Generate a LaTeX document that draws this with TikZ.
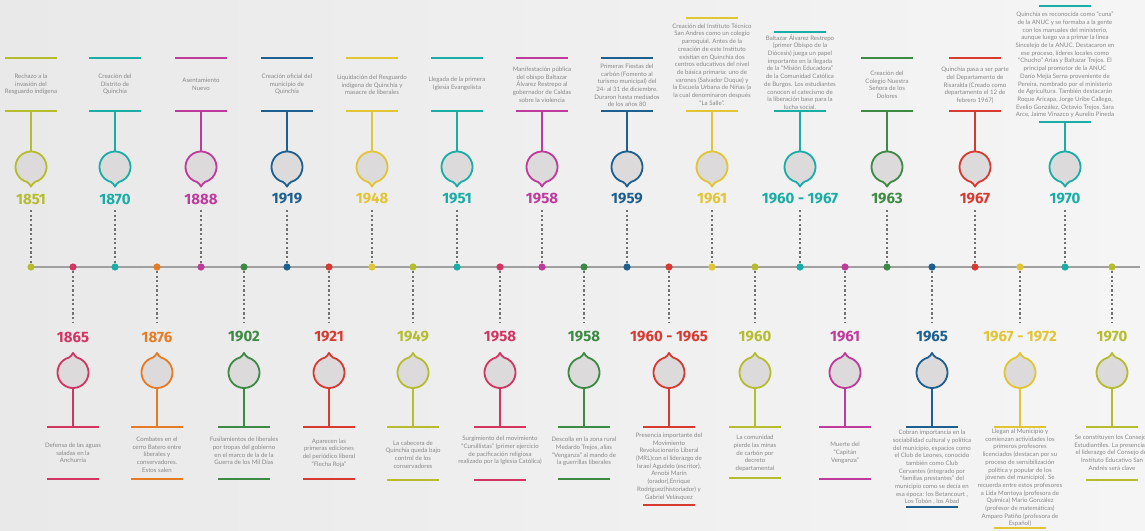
\documentclass[tikz,border=0pt]{standalone}
\usepackage{fontspec}
\setmainfont{Lato}
\newfontfamily\yearfont{Fira Sans}
\definecolor{olive}{HTML}{B5BD2F}
\definecolor{teal}{HTML}{19ADA6}
\definecolor{magenta}{HTML}{BE3A9B}
\definecolor{blue}{HTML}{1D5F8E}
\definecolor{yellow}{HTML}{E2C534}
\definecolor{green}{HTML}{3C8A43}
\definecolor{red}{HTML}{D73A30}
\definecolor{crimson}{HTML}{D23562}
\definecolor{orange}{HTML}{E67B26}
\definecolor{txtgray}{HTML}{888888}
\definecolor{markfill}{HTML}{DCDADB}
\definecolor{dotgray}{HTML}{707070}
\definecolor{linegray}{HTML}{A0A0A0}
\definecolor{bgl}{HTML}{E9E9E9}
\definecolor{bgr}{HTML}{F5F5F5}
\tikzset{
 txt/.style={font=\fontsize{6.1}{7.7}\selectfont, text=txtgray, align=center, inner sep=0pt},
 yr/.style={font=\yearfont\bfseries\fontsize{15}{15}\selectfont, inner sep=0pt},
 bar/.style={draw=#1, line width=1.6pt},
 stem/.style={draw=#1, line width=1.2pt},
 dotline/.style={draw=dotgray, line width=2.2pt, dash pattern=on 2.2pt off 2.4pt},
 pinshape/.style={draw=#1, fill=markfill, line width=1.8pt, line join=round},
}
\newcommand\pinmark[4]{%
 \begin{scope}[shift={(#1,#2)}, yscale=#3]
  \path[pinshape=#4] (105:15.5) arc[start angle=105, end angle=435, radius=15.5]
   .. controls (2.4,16.3) and (0.6,17.6) .. (0,19.6)
   .. controls (-0.6,17.6) and (-2.4,16.3) .. (105:15.5) -- cycle;
 \end{scope}}
% #1 id #2 x #3 color #4 year #5 top bar y #6 bottom bar y #7 text center y #8 text
\newcommand\topev[8]{%
 \draw[bar=#3] ({#2-26},#5) -- ({#2+26},#5);
 \draw[bar=#3] ({#2-26},#6) -- ({#2+26},#6);
 \node[txt] (tx#1) at (#2,#7) {#8};
 \coordinate (st#1) at (#2,#6);
 \coordinate (ct#1) at (#2,151.5);
 \draw[stem=#3] (st#1) -- (ct#1);
 \pinmark{#2}{167}{1}{#3}
 \node[yr, text=#3] (yr#1) at (#2,199) {#4};
 \coordinate (ds#1) at (#2,210);
 \coordinate (de#1) at (#2,263);
 \draw[dotline] (ds#1) -- (de#1);
 \coordinate (d#1) at (#2,267);
 \fill[#3] (d#1) circle (3.6);
}
% #1 id #2 x #3 color #4 year #5 bottom bar y #6 text center y #7 text
\newcommand\botev[7]{%
 \coordinate (ds#1) at (#2,271);
 \coordinate (de#1) at (#2,323);
 \draw[dotline] (ds#1) -- (de#1);
 \node[yr, text=#3] (yr#1) at (#2,337) {#4};
 \coordinate (sa#1) at (#2,388);
 \coordinate (sb#1) at (#2,427);
 \draw[stem=#3] (sa#1) -- (sb#1);
 \pinmark{#2}{372.5}{-1}{#3}
 \draw[bar=#3] ({#2-26},427) -- ({#2+26},427);
 \draw[bar=#3] ({#2-26},#5) -- ({#2+26},#5);
 \node[txt] (tx#1) at (#2,#6) {#7};
 \coordinate (d#1) at (#2,267);
 \fill[#3] (d#1) circle (3.6);
}
\begin{document}
\begin{tikzpicture}[x=1pt,y=-1pt]
\useasboundingbox (0,0) rectangle (1145,530);
\fill[left color=bgl, right color=bgr] (0,0) rectangle (1145,530);
\coordinate (tlA) at (31,267);
\coordinate (tlB) at (1140,267);
\draw[linegray, line width=1.5pt] (tlA) -- (tlB);

\topev{a}{31}{olive}{1851}{58}{111}{84.5}{Rechazo a la\\invasión del\\Resguardo indígena}
\topev{b}{115}{teal}{1870}{58}{111}{84.5}{Creación del\\Distrito de\\Quinchía}
\topev{c}{201}{magenta}{1888}{58}{111}{84.5}{Asentamiento\\Nuevo}
\topev{d}{287}{blue}{1919}{58}{111}{84.5}{Creación oficial del\\municipio de\\Quinchía}
\topev{e}{372}{yellow}{1948}{58}{111}{85}{Liquidación del Resguardo\\indígena de Quinchía y\\masacre de liberales}
\topev{f}{457}{teal}{1951}{58}{111}{84}{Llegada de la primera\\Iglesia Evangelista}
\topev{g}{542}{magenta}{1958}{58}{111}{84.5}{Manifestación pública\\del obispo Baltazar\\Álvarez Restrepo al\\gobernador de Caldas\\sobre la violencia}
\topev{h}{627}{blue}{1959}{58}{111}{85.5}{Primeras Fiestas del\\carbón (Fomento al\\turismo municipal) del\\24- al 31 de diciembre.\\Duraron hasta mediados\\de los años 80}
\topev{i}{712}{yellow}{1961}{18}{111}{64.5}{Creación del Instituto Técnico\\San Andres como un colegio\\parroquial. Antes de la\\creación de este Instituto\\existían en Quinchía dos\\centros educativos del nivel\\de básica primaria: uno de\\varones (Salvador Duque) y\\la Escuela Urbana de Niñas (a\\la cual denominaron después\\“La Salle”.}
\topev{j}{800}{teal}{1960 - 1967}{32}{111}{72}{Baltazar Álvarez Restrepo\\(primer Obispo de la\\Diócesis) juega un papel\\importante en la llegada\\de la “Misión Educadora”\\de la Comunidad Católica\\de Burgos. Los estudiantes\\conocen el catecismo de\\la liberación base para la\\lucha social.}
\topev{k}{887}{green}{1963}{58}{111}{84.7}{Creación del\\Colegio Nuestra\\Señora de los\\Dolores}
\topev{l}{975}{red}{1967}{58}{111}{85.3}{Quinchía pasa a ser parte\\del Departamento de\\Risaralda (Creado como\\departamento el 12 de\\febrero 1967)}
\topev{m}{1065}{teal}{1970}{6}{122}{65}{Quinchía es reconocida como “cuna”\\de la ANUC y se formaba a la gente\\con los manuales del ministerio,\\aunque luego va a primar la línea\\Sincelejo de la ANUC.  Destacaron en\\ese proceso, líderes locales como\\“Chucho” Arias y Baltazar Trejos. El\\principal promotor de la ANUC\\Darío Mejía Serna proveniente de\\Pereira, nombrado por el ministerio\\de Agricultura. También destacarán\\Roque Aricapa, Jorge Uribe Callego,\\Evelio González, Octavio Trejos, Sara\\Arce, Jaime Vinazco y Aurelio Pineda}

\botev{n}{73}{crimson}{1865}{479}{453}{Defensa de las aguas\\saladas en la\\Anchurria}
\botev{o}{157}{orange}{1876}{479}{454.5}{Combates en el\\cerro Batero entre\\liberales y\\conservadores.\\Estos salen}
\botev{p}{244}{green}{1902}{479}{451}{Fusilamientos de liberales\\por tropas del gobierno\\en el marco de la de la\\Guerra de los Mil Días}
\botev{q}{329}{red}{1921}{479}{453}{Aparecen las\\primeras ediciones\\del periódico liberal\\“Flecha Roja”}
\botev{r}{413}{olive}{1949}{480}{454.5}{La cabecera de\\Quinchía queda bajo\\control de los\\conservadores}
\botev{s}{500}{crimson}{1958}{480}{450.5}{Surgimiento del movimiento\\“Cursillistas” (primer ejercicio\\de pacificación religiosa\\realizado por la Iglesia Católica)}
\botev{t}{584}{green}{1958}{479}{451.5}{Descolla en la zona rural\\Medardo Trejos, alias\\“Venganza” al mando de\\la guerrillas liberales}
\botev{u}{669}{red}{1960 - 1965}{505}{466.5}{Presencia importante del\\Movimiento\\Revolucionario Liberal\\(MRL)con el liderazgo de\\Israel Agudelo (escritor),\\Arnobi Marín\\(orador),Enrique\\Rodríguez(historiador) y\\Gabriel Velásquez}
\botev{v}{755}{olive}{1960}{478}{453.5}{La comunidad\\pierde las minas\\de carbón por\\decreto\\departamental}
\botev{w}{845}{magenta}{1961}{479}{453}{Muerte del\\“Capitán\\Venganza”}
\botev{x}{932}{blue}{1965}{507}{467.5}{Cobran importancia en la\\sociabilidad cultural y política\\del municipio, espacios como\\el Club de Leones, conocido\\también como Club\\Cervantes (integrado por\\“familias prestantes” del\\municipio como se decía en\\esa época: los Betancourt ,\\Los Tobón , los Abad}
\botev{y}{1020}{yellow}{1967 - 1972}{528}{478}{Llegan al Municipio y\\comienzan actividades los\\primeros profesores\\licenciados (destacan por su\\proceso de sensibilización\\política y popular de los\\jóvenes del municipio). Se\\recuerda entre estos profesores\\a Lida Montoya (profesora de\\Química) Mario González\\(profesor de matemáticas)\\Amparo Patiño (profesora de\\Español)}
\botev{z}{1112}{olive}{1970}{480}{452.7}{Se constituyen los Consejos\\Estudiantiles. La presencia y\\el liderazgo del Consejo del\\Instituto Educativo San\\Andrés será clave}
\end{tikzpicture}
\end{document}
